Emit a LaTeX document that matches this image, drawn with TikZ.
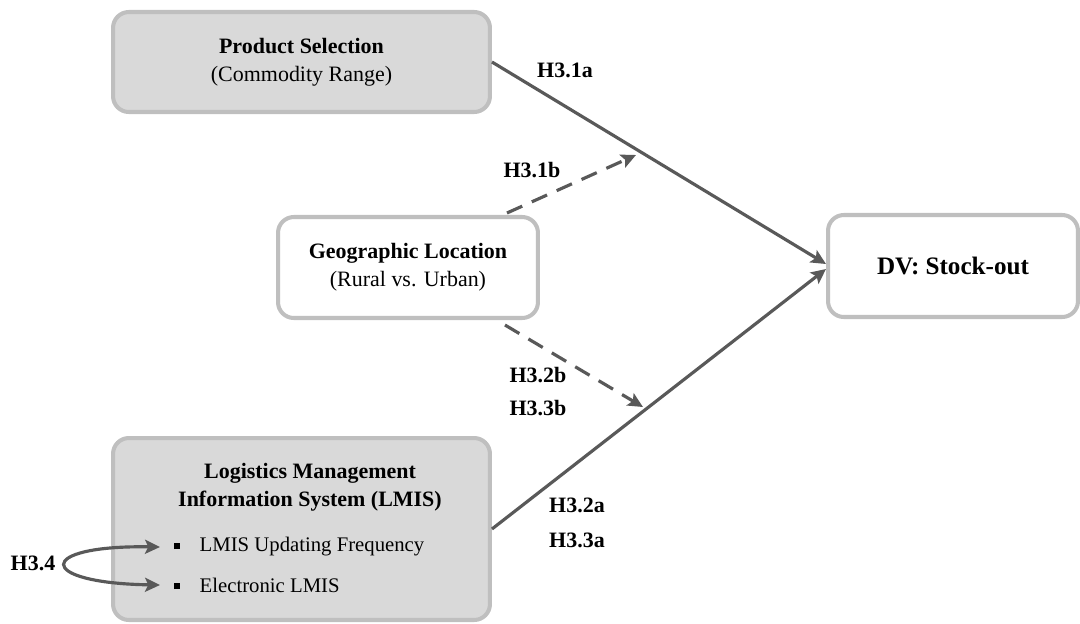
\documentclass[tikz,border=0pt]{standalone}
\usepackage{fontspec}
\setmainfont{Liberation Serif}
\usetikzlibrary{arrows.meta,calc}
\definecolor{boxfill}{HTML}{D9D9D9}
\definecolor{boxline}{HTML}{BFBFBF}
\definecolor{arrowc}{HTML}{595959}

\begin{document}
\begin{tikzpicture}[x=0.02cm,y=-0.02cm,
  box/.style={draw=boxline, line width=2.3pt, rounded corners=9pt, align=center,
    font=\fontsize{12.5}{16}\selectfont, inner sep=0pt},
  shaded/.style={box, fill=boxfill},
  plain/.style={box, fill=white},
  link/.style={draw=arrowc, line width=1.8pt, -{Stealth[length=8.5pt,width=8pt,inset=1.8pt]}},
  duallink/.style={draw=arrowc, line width=1.8pt,
    {Stealth[length=8.5pt,width=8pt,inset=1.8pt]}-{Stealth[length=8.5pt,width=8pt,inset=1.8pt]}},
  dashedlink/.style={link, dash pattern=on 9.5pt off 6pt},
  hyp/.style={font=\bfseries\fontsize{12.5}{16}\selectfont, inner sep=0pt},
  txt/.style={align=center, inner sep=0pt, font=\fontsize{12.5}{16}\selectfont},
  item/.style={anchor=west, inner xsep=8pt, inner ysep=0pt, font=\fontsize{11.8}{14}\selectfont}
]
\useasboundingbox (0,0) rectangle (1080,623);

% boxes
\node[shaded, minimum width=7.54cm, minimum height=2.0cm] (prod) at (301.5,62)
  {\textbf{Product Selection}\\(Commodity Range)};
\node[plain, minimum width=5.2cm, minimum height=2.02cm] (geo) at (408,267.5)
  {\textbf{Geographic Location}\\(Rural vs. Urban)};
\node[plain, minimum width=5.0cm, minimum height=2.04cm] (dv) at (953,266)
  {\fontsize{14.3}{17}\selectfont\textbf{DV: Stock-out}};
\node[shaded, minimum width=7.54cm, minimum height=3.64cm] (lmis) at (301.5,529) {};
\node[txt] (lmisT) at (310,487)
  {\textbf{Logistics Management}\\\textbf{Information System (LMIS)}};
\node[item] (i1) at (160,547)
  {\raisebox{0.3ex}{\rule{3.4pt}{3.4pt}}\hspace{11pt}LMIS Updating Frequency};
\node[item] (i2) at (160,585)
  {\raisebox{0.3ex}{\rule{3.4pt}{3.4pt}}\hspace{11pt}Electronic LMIS};

% free ends of the moderating arrows
\coordinate (m1) at (636,155);
\coordinate (m2) at (643,407);

% main effects
\draw[link] (prod.east) -- ($(dv.west)+(0,-2)$);
\draw[link] (lmis.east) -- ($(dv.west)+(0,3)$);

% moderation by location
\draw[dashedlink] ($(geo.north east)+(-33,-2)$) -- (m1);
\draw[dashedlink] ($(geo.south east)+(-35,5)$) -- (m2);

% relation between the two LMIS measures
\draw[duallink] (i1.west) .. controls (35,545) and (35,583) .. (i2.west);

% hypothesis labels
\node[hyp] (h31a) at (565,70) {H3.1a};
\node[hyp] (h31b) at (532,170) {H3.1b};
\node[hyp] (h32b) at (538,375) {H3.2b};
\node[hyp] (h33b) at (538,408) {H3.3b};
\node[hyp] (h32a) at (577,505) {H3.2a};
\node[hyp] (h33a) at (577,540) {H3.3a};
\node[hyp] (h34) at (33,563) {H3.4};
\end{tikzpicture}
\end{document}
